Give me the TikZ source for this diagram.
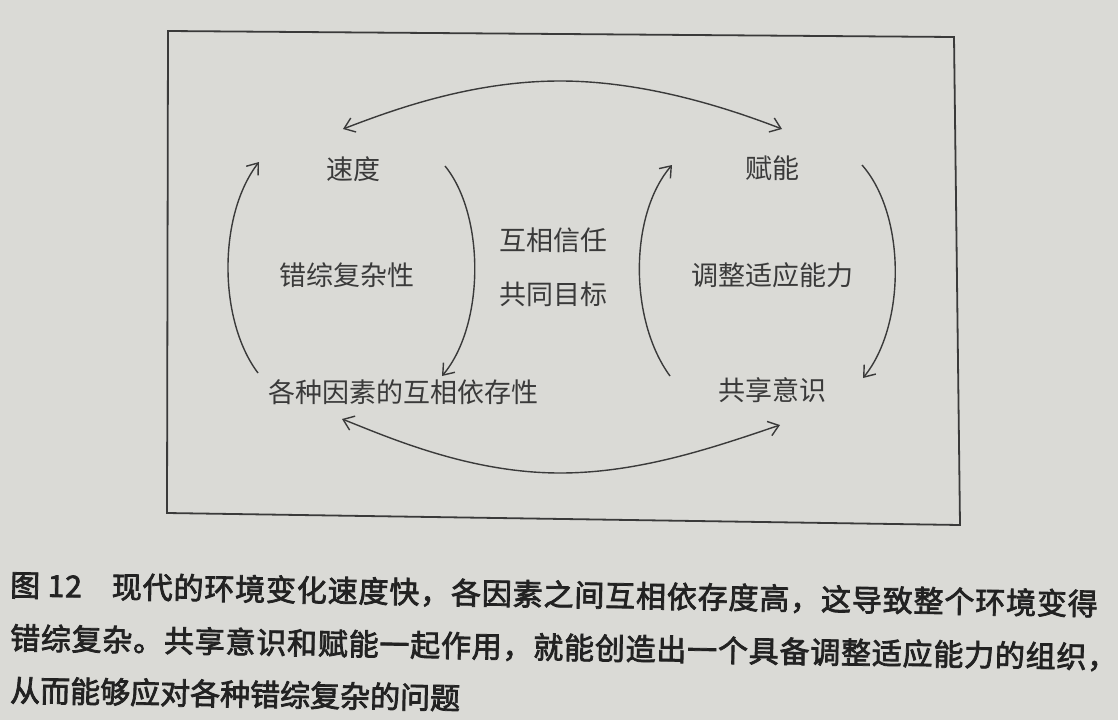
\documentclass[tikz,border=0pt]{standalone}
\usepackage{fontspec}
\usepackage{xcolor}
\usepackage{tikz}
\usetikzlibrary{arrows.meta, calc}

\newfontfamily\cjk{Noto Sans CJK SC}
\newfontfamily\cjkdam[FakeBold=2.5]{Noto Sans CJK SC}
\definecolor{giay}{RGB}{218,218,214}
\definecolor{muc}{RGB}{58,58,58}
\definecolor{chu}{RGB}{34,34,34}

\begin{document}
\begin{tikzpicture}[x=1pt, y=-1pt, >={Straight Barb[length=10pt,width=15pt]},
    tu/.style={font=\cjk\fontsize{27}{30}\selectfont, text=muc, inner sep=0pt},
    cung/.style={draw=muc, line width=1.4pt},
    chuthich/.style={anchor=west, font=\cjkdam\fontsize{30}{34}\selectfont, text=chu, inner sep=0pt, rotate=-1}]
    % Nền giấy và khung hình
    \fill[giay] (0,0) rectangle (1118,720);
    \useasboundingbox (0,0) rectangle (1118,720);
    \draw[muc, line width=1.8pt] (168,31) -- (954,37) -- (960,525) -- (167,513) -- cycle;

    % Vòng bên trái
    \node[tu] (sudu) at (353,169) {速度};
    \node[tu] (cuozong) at (347,275) {错综复杂性};
    \node[tu] (yicun) at (403,392) {各种因素的互相依存性};

    % Phần giữa
    \node[tu] (xinren) at (553,240) {互相信任};
    \node[tu] (mubiao) at (553,294) {共同目标};

    % Vòng bên phải
    \node[tu] (funeng) at (772,168) {赋能};
    \node[tu] (tiaozheng) at (772,275) {调整适应能力};
    \node[tu] (gongxiang) at (772,390) {共享意识};

    % Các cung mũi tên
    \draw[cung, ->] ([shift={(-145,-19)}]yicun.center) .. controls (218,320) and (218,215) .. ([shift={(-94,-7)}]sudu.center);
    \draw[cung, ->] ([shift={(92,-3)}]sudu.center) .. controls (485,215) and (485,325) .. ([shift={(39,-16)}]yicun.center);
    \draw[cung, ->] ([shift={(-102,-14)}]gongxiang.center) .. controls (629,320) and (629,215) .. ([shift={(-100,-3)}]funeng.center);
    \draw[cung, ->] ([shift={(90,-3)}]funeng.center) .. controls (906,215) and (906,325) .. ([shift={(91,-12)}]gongxiang.center);
    \draw[cung, <->] ([shift={(-10,-40)}]sudu.center) .. controls (390,111) and (470,81) .. (560,81)
        .. controls (640,81) and (720,105) .. ([shift={(10,-39)}]funeng.center);
    \draw[cung, <->] ([shift={(-61,27)}]yicun.center) .. controls (390,438) and (470,473) .. (560,473)
        .. controls (640,473) and (715,447) .. ([shift={(8,35)}]gongxiang.center);

    % Chú thích bên dưới
    \node[chuthich] (cap1) at (10,585) {\addfontfeatures{LetterSpace=2.8}图\ 12\hspace{30pt}现代的环境变化速度快，各因素之间互相依存度高，这导致整个环境变得};
    \node[chuthich] (cap2) at (10,638) {\addfontfeatures{LetterSpace=2.6}错综复杂。共享意识和赋能一起作用，就能创造出一个具备调整适应能力的组织，};
    \node[chuthich] (cap3) at (10,690) {从而能够应对各种错综复杂的问题};
\end{tikzpicture}
\end{document}
